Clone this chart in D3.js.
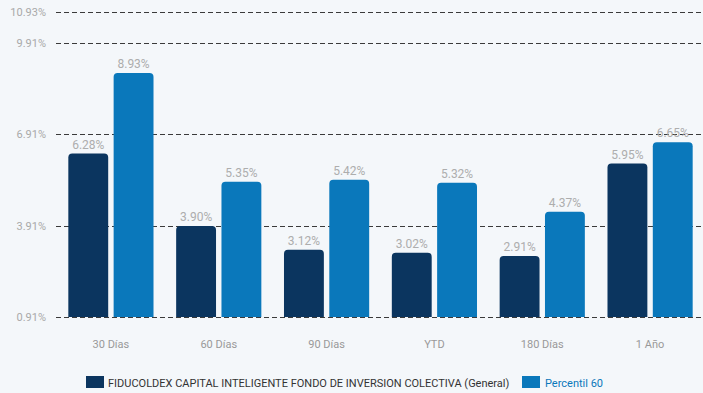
<!DOCTYPE html>
<html><head><meta charset="utf-8">
<script src="https://cdn.jsdelivr.net/npm/d3@7/dist/d3.min.js"></script>
<style>
html,body{margin:0;padding:0;background:#f4f7fa;}
svg{display:block;font-family:Roboto,"Liberation Sans",sans-serif;}
</style></head>
<body><svg id="c" width="703" height="393"></svg>
<script>
const categories = ["30 Días","60 Días","90 Días","YTD","180 Días","1 Año"];
const fundValues = [6.28,3.90,3.12,3.02,2.91,5.95];
const percentilValues = [8.93,5.35,5.42,5.32,4.37,6.65];
const tickValues = [0.91,3.91,6.91,9.91,10.93];
const seriesNames = ["FIDUCOLDEX CAPITAL INTELIGENTE FONDO DE INVERSION COLECTIVA (General)","Percentil 60"];
const colors = ["#0b355f","#0a78bb"];

const svg = d3.select("#c");
svg.append("rect").attr("width",703).attr("height",393).attr("fill","#f4f7fa");
const x = d3.scaleBand().domain(categories).range([57,704]).paddingInner(0).paddingOuter(0);
const y = d3.scaleLinear().domain([0.91,10.93]).range([317,12]);
const inner = d3.scaleBand().domain([0,1]).range([x.bandwidth()*0.105, x.bandwidth()*0.895]).paddingInner(0.12);

// grid
const g = svg.append("g");
g.selectAll("line").data(tickValues).join("line")
  .attr("x1",56).attr("x2",703)
  .attr("y1",d=>Math.round(y(d))+0.5).attr("y2",d=>Math.round(y(d))+0.5)
  .attr("stroke","#3a3a3a").attr("stroke-width",1).attr("stroke-dasharray","5,3");
g.selectAll("text").data(tickValues).join("text")
  .attr("x",46).attr("y",d=>y(d)+4).attr("text-anchor","end")
  .attr("font-size",11).attr("fill","#a9a9a9")
  .text(d=>d.toFixed(2)+"%");

function roundTop(x0,y0,w,h,r){
  r=Math.min(r,h);
  return `M${x0},${y0+h}V${y0+r}Q${x0},${y0} ${x0+r},${y0}H${x0+w-r}Q${x0+w},${y0} ${x0+w},${y0+r}V${y0+h}Z`;
}
const series=[fundValues,percentilValues];
series.forEach((vals,si)=>{
  const gg=svg.append("g");
  gg.selectAll("path").data(vals).join("path")
    .attr("d",(d,i)=>{const x0=x(categories[i])+inner(si);return roundTop(x0,y(d),inner.bandwidth(),y(0.91)-y(d),4);})
    .attr("fill",colors[si]);
  gg.selectAll("text").data(vals).join("text")
    .attr("x",(d,i)=>x(categories[i])+inner(si)+inner.bandwidth()/2)
    .attr("y",d=>y(d)-5).attr("text-anchor","middle")
    .attr("font-size",12).attr("fill","#adadad")
    .text(d=>d.toFixed(2)+"%");
});

// x axis labels
svg.append("g").selectAll("text").data(categories).join("text")
  .attr("x",d=>x(d)+x.bandwidth()/2).attr("y",348).attr("text-anchor","middle")
  .attr("font-size",11).attr("fill","#999")
  .text(d=>d);

// legend
const lg=svg.append("g");
lg.append("rect").attr("x",86).attr("y",376).attr("width",18).attr("height",12).attr("fill",colors[0]);
lg.append("text").attr("x",108).attr("y",386.5).attr("font-size",11).attr("fill","#333").text(seriesNames[0]);
lg.append("rect").attr("x",522).attr("y",376).attr("width",18).attr("height",12).attr("fill",colors[1]);
lg.append("text").attr("x",545).attr("y",386.5).attr("font-size",11).attr("fill",colors[1]).text(seriesNames[1]);
</script></body></html>
